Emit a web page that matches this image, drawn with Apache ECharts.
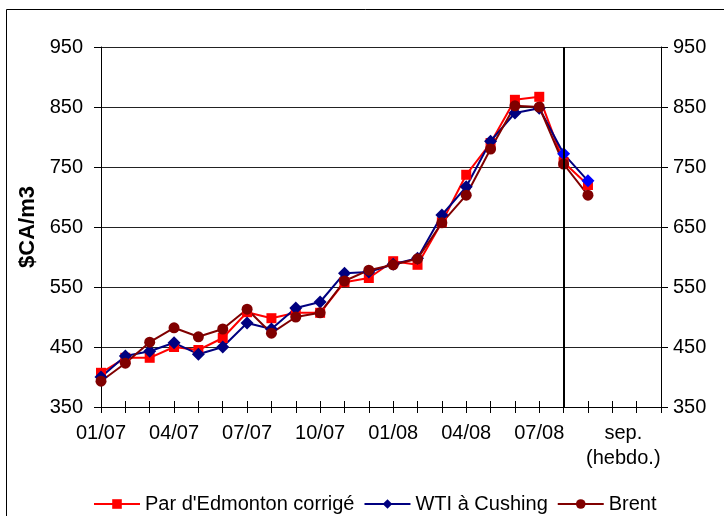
<!DOCTYPE html>
<html>
<head>
<meta charset="utf-8">
<script src="https://cdn.jsdelivr.net/npm/echarts@6/dist/echarts.min.js"></script>
<style>html,body{margin:0;padding:0;background:#fff}#c{width:724px;height:516px}</style>
</head>
<body>
<div id="c"></div>
<script>
// Categories: monthly 01/07 .. 08/08, then weekly (September)
const categories = ['01/07','02/07','03/07','04/07','05/07','06/07','07/07','08/07','09/07','10/07','11/07','12/07',
  '01/08','02/08','03/08','04/08','05/08','06/08','07/08','08/08','sep. s1','sep. s2','sep. s3','sep. s4'];
// Text shown under each tick ('' = no label)
const tickLabels = ['01/07','','','04/07','','','07/07','','','10/07','','',
  '01/08','','','04/08','','','07/08','','','sep.\n(hebdo.)','',''];
const yTicks = [350, 450, 550, 650, 750, 850, 950];

const edmonton = [407,432,432,450,445,465,508,498,507,507,558,565,593,587,658,737,790,862,867,758,720,null,null,null];
const wti      = [400,435,443,457,438,450,490,480,515,525,573,575,588,598,670,717,793,840,848,772,727,null,null,null];
const brent    = [393,423,458,482,467,480,513,473,500,507,560,578,587,597,657,703,780,852,850,755,703,null,null,null];
const weeklyStart = 19; // index of the divider line

const FONT = 'Liberation Sans, Arial, sans-serif';
const chart = echarts.init(document.getElementById('c'));

const xData = categories.map((c, i) => {
  if (tickLabels[i] && tickLabels[i].indexOf('\n') >= 0) {
    return { value: c, textStyle: { padding: [0, 0, 0, 22] } };
  }
  return c;
});

const wtiData = wti.map((v, i) => (i >= weeklyStart && v != null) ? { value: v, itemStyle: { color: '#0000FF' } } : v);

chart.setOption({
  animation: false,
  backgroundColor: '#fff',
  textStyle: { fontFamily: FONT },
  grid: { left: 101, right: 63, top: 47, bottom: 109, containLabel: false },
  legend: {
    left: 88, top: 489, itemWidth: 46, itemHeight: 12, itemGap: 9,
    textStyle: { fontSize: 20, color: '#000', fontFamily: FONT },
    data: ["Par d'Edmonton corrigé", 'WTI à Cushing', 'Brent']
  },
  graphic: [{
    type: 'rect', silent: true,
    shape: { x: 6.5, y: 9.5, width: 730, height: 520 },
    style: { fill: 'none', stroke: '#000', lineWidth: 1 }
  }],
  xAxis: [{
    type: 'category', data: xData, boundaryGap: false,
    axisLine: { lineStyle: { color: '#000', width: 1 } },
    axisTick: { show: true, interval: 0, length: 6, lineStyle: { color: '#000' } },
    axisLabel: {
      interval: 0, margin: 14, fontSize: 20, color: '#000', lineHeight: 25,
      formatter: (v, i) => tickLabels[i]
    },
    splitLine: { show: false }
  }, {
    type: 'category', data: categories, boundaryGap: false, position: 'bottom',
    axisLine: { show: false },
    axisTick: { show: true, inside: true, interval: 0, length: 6, lineStyle: { color: '#000' } },
    axisLabel: { show: false }, splitLine: { show: false }
  }],
  yAxis: [{
    type: 'value', min: 350, max: 950, interval: 100,
    name: '$CA/m3', nameLocation: 'middle', nameGap: 62,
    nameTextStyle: { fontSize: 22, fontWeight: 'bold', color: '#000', fontFamily: FONT },
    axisLine: { show: true, lineStyle: { color: '#000' } },
    axisTick: { show: true, length: 7, lineStyle: { color: '#000' } },
    axisLabel: { fontSize: 20, color: '#000', margin: 18, formatter: v => yTicks.indexOf(v) >= 0 ? String(v) : '' },
    splitLine: { show: true, lineStyle: { color: '#222', width: 1 } }
  }, {
    type: 'value', min: 350, max: 950, interval: 100, position: 'right',
    axisLine: { show: true, lineStyle: { color: '#000' } },
    axisTick: { show: true, length: 7, lineStyle: { color: '#000' } },
    axisLabel: { fontSize: 20, color: '#000', margin: 12, formatter: v => yTicks.indexOf(v) >= 0 ? String(v) : '' },
    splitLine: { show: false }
  }],
  series: [{
    name: "Par d'Edmonton corrigé", type: 'line', data: edmonton,
    symbol: 'rect', symbolSize: 10,
    itemStyle: { color: '#FF0000' }, lineStyle: { color: '#FF0000', width: 2 },
    markLine: {
      silent: true, symbol: 'none', label: { show: false },
      lineStyle: { color: '#000', width: 2, type: 'solid' },
      data: [{ xAxis: categories[weeklyStart] }]
    }
  }, {
    name: 'WTI à Cushing', type: 'line', data: wtiData,
    symbol: 'diamond', symbolSize: 13,
    itemStyle: { color: '#000080' }, lineStyle: { color: '#000080', width: 2 }
  }, {
    name: 'Brent', type: 'line', data: brent,
    symbol: 'circle', symbolSize: 11,
    itemStyle: { color: '#800000' }, lineStyle: { color: '#800000', width: 2 }
  }]
});
</script>
</body>
</html>
